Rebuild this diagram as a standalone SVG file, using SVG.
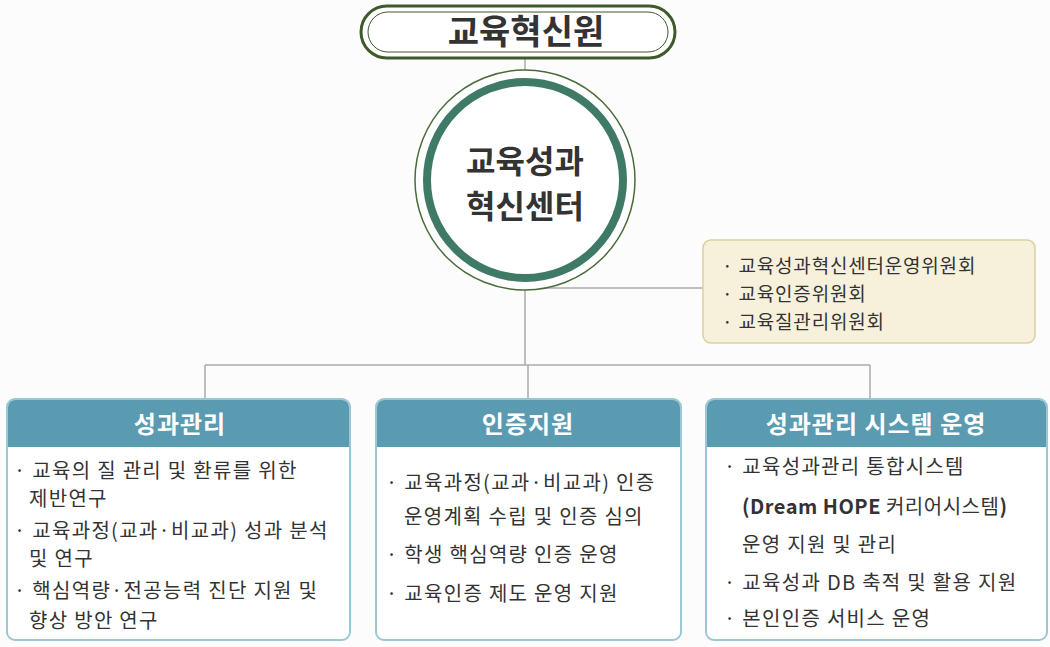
<svg xmlns="http://www.w3.org/2000/svg" width="1050" height="647" viewBox="0 0 1050 647">
<style>
text{font-family:"Noto Sans CJK KR","Noto Sans",sans-serif;fill:#333}
.hd{fill:#fff;font-size:24px;font-weight:bold;text-anchor:middle;letter-spacing:1px}
.it{font-size:20px;letter-spacing:1.3px}
.cm{font-size:19px;letter-spacing:0.8px}
.box{fill:#fff;stroke:#9cc6d4;stroke-width:2}
.hdr{fill:#5b9bb2}
.ln{stroke:#aaa;stroke-width:1.5;fill:none}
</style>
<rect width="1050" height="647" fill="#fcfcfc"/>
<g id="connectors">
<path class="ln" d="M525 58V70M525 290V365M205 365H870M205 365V399M528 365V399M870 365V399M525 288H703"/>
</g>
<g id="top">
<rect x="361" y="6" width="314" height="52" rx="26" fill="#fff" stroke="#3f5a2a" stroke-width="3"/>
<rect x="368" y="12" width="300" height="40" rx="20" fill="none" stroke="#3f5a2a" stroke-width="1"/>
<text x="526" y="44" font-size="34" font-weight="bold" text-anchor="middle">교육혁신원</text>
</g>
<g id="center">
<circle cx="525" cy="180" r="110" fill="#fff" stroke="#4a6b3a" stroke-width="1.5"/>
<circle cx="525" cy="180" r="98" fill="none" stroke="#3f7a66" stroke-width="8"/>
<text x="525" y="173" font-size="32" font-weight="bold" text-anchor="middle">교육성과</text>
<text x="525" y="218" font-size="32" font-weight="bold" text-anchor="middle">혁신센터</text>
</g>
<g id="committee">
<rect x="703" y="240" width="332" height="103" rx="8" fill="#f7f1dc" stroke="#d9cf9f" stroke-width="1.5"/>
<text class="cm" x="722" y="273">· 교육성과혁신센터운영위원회</text>
<text class="cm" x="722" y="301">· 교육인증위원회</text>
<text class="cm" x="722" y="329">· 교육질관리위원회</text>
</g>
<g id="box1">
<rect class="box" x="7" y="399" width="343" height="241" rx="8"/>
<path class="hdr" d="M15 400H342a7 7 0 0 1 7 7V447H8V407a7 7 0 0 1 7-7Z"/>
<text class="hd" x="180" y="433">성과관리</text>
<text class="it" x="14" y="478">· 교육의 질 관리 및 환류를 위한</text>
<text class="it" x="29" y="506">제반연구</text>
<text class="it" x="14" y="538">· 교육과정(교과·비교과) 성과 분석</text>
<text class="it" x="29" y="566">및 연구</text>
<text class="it" x="14" y="598">· 핵심역량·전공능력 진단 지원 및</text>
<text class="it" x="29" y="628">향상 방안 연구</text>
</g>
<g id="box2">
<rect class="box" x="376" y="399" width="305" height="241" rx="8"/>
<path class="hdr" d="M384 400H673a7 7 0 0 1 7 7V447H377V407a7 7 0 0 1 7-7Z"/>
<text class="hd" x="528" y="433">인증지원</text>
<text class="it" x="386" y="490">· 교육과정(교과·비교과) 인증</text>
<text class="it" x="404" y="524">운영계획 수립 및 인증 심의</text>
<text class="it" x="386" y="562">· 학생 핵심역량 인증 운영</text>
<text class="it" x="386" y="601">· 교육인증 제도 운영 지원</text>
</g>
<g id="box3">
<rect class="box" x="706" y="399" width="341" height="241" rx="8"/>
<path class="hdr" d="M714 400H1039a7 7 0 0 1 7 7V447H707V407a7 7 0 0 1 7-7Z"/>
<text class="hd" x="876" y="433">성과관리 시스템 운영</text>
<text class="it" x="724" y="474">· 교육성과관리 통합시스템</text>
<text class="it" x="742" y="514" style="letter-spacing:0.5px"><tspan font-weight="bold">(Dream HOPE</tspan> 커리어시스템<tspan font-weight="bold">)</tspan></text>
<text class="it" x="742" y="552">운영 지원 및 관리</text>
<text class="it" x="724" y="590">· 교육성과 DB 축적 및 활용 지원</text>
<text class="it" x="724" y="626">· 본인인증 서비스 운영</text>
</g>
</svg>
